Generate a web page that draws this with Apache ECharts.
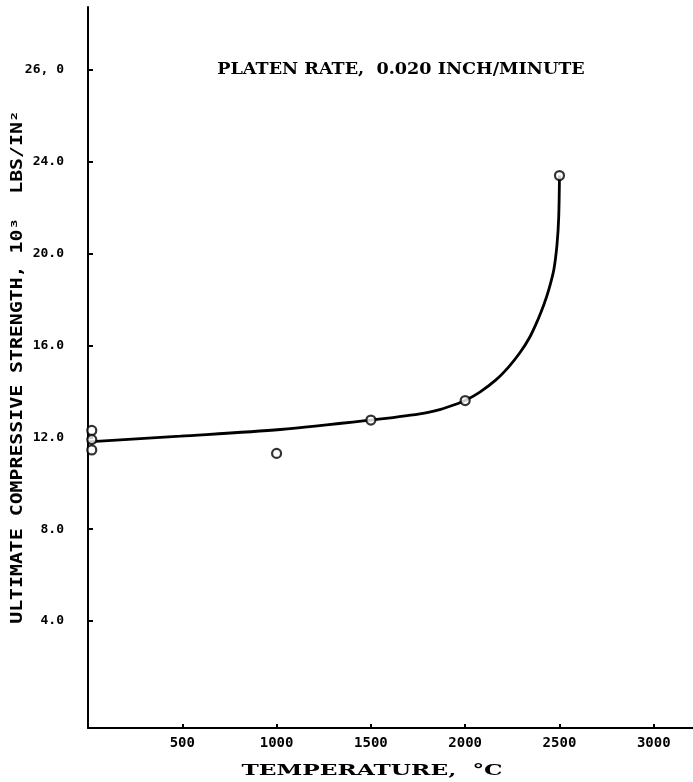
<!DOCTYPE html>
<html>
<head>
<meta charset="utf-8">
<script src="https://cdn.jsdelivr.net/npm/echarts@6/dist/echarts.min.js"></script>
<style>
  html, body { margin: 0; padding: 0; background: #fff; }
  #chart { width: 693px; height: 782px; }
</style>
</head>
<body>
<div id="chart"></div>
<script>
// Tick positions and their printed labels
const xTickValues = [500, 1000, 1500, 2000, 2500, 3000];
const xTickLabels = ['500', '1000', '1500', '2000', '2500', '3000'];
const yTickValues = [4, 8, 12, 16, 20, 24, 28];
const yTickLabels = ['4.0', '8.0', '12.0', '16.0', '20.0', '24.0', '26, 0'];

// Titles
const noteText = 'PLATEN RATE,  0.020 INCH/MINUTE';
const xTitle = 'TEMPERATURE,  °C';
const yTitle = 'ULTIMATE COMPRESSIVE STRENGTH, 10³  LBS/IN²';

// Measured specimens (temperature °C, strength 10^3 lbs/in^2)
const pointTemp = [20, 20, 20, 1000, 1500, 2000, 2500];
const pointStrength = [12.3, 11.9, 11.45, 11.3, 12.75, 13.6, 23.4];

// Faired curve through the measurements
const curveTemp = [0, 490, 1020, 1500, 1760, 1870, 1955, 2000, 2078, 2163, 2231, 2290, 2343, 2385, 2417, 2443, 2470, 2487, 2496, 2500];
const curveStrength = [11.8, 12.05, 12.34, 12.75, 13.02, 13.22, 13.45, 13.6, 13.97, 14.5, 15.07, 15.68, 16.37, 17.11, 17.77, 18.42, 19.3, 20.4, 21.6, 23.4];

const monoFont = '"DejaVu Sans Mono", "Liberation Mono", monospace';
const serifFont = '"DejaVu Serif", "Liberation Serif", serif';

const chart = echarts.init(document.getElementById('chart'), null, { renderer: 'canvas' });

chart.setOption({
  backgroundColor: '#ffffff',
  animation: false,
  grid: { left: 88, right: 0, top: 7, bottom: 54, containLabel: false, outerBoundsMode: 'none' },
  xAxis: {
    type: 'value',
    min: 0,
    max: 3208,
    splitLine: { show: false },
    axisLine: { show: true, onZero: false, lineStyle: { color: '#000', width: 2 } },
    axisTick: {
      show: true, inside: true, length: 4, customValues: xTickValues,
      lineStyle: { color: '#000', width: 2 }
    },
    axisLabel: {
      customValues: xTickValues,
      formatter: v => xTickLabels[xTickValues.indexOf(v)] ?? '',
      color: '#000', fontFamily: monoFont, fontWeight: 'bold', fontSize: 14,
      margin: 8
    }
  },
  yAxis: {
    type: 'value',
    min: -0.66,
    max: 30.74,
    splitLine: { show: false },
    axisLine: { show: true, onZero: false, lineStyle: { color: '#000', width: 2 } },
    axisTick: {
      show: true, inside: true, length: 5, customValues: yTickValues,
      lineStyle: { color: '#000', width: 2 }
    },
    axisLabel: {
      customValues: yTickValues,
      formatter: v => yTickLabels[yTickValues.indexOf(v)] ?? '',
      color: '#000', fontFamily: monoFont, fontWeight: 'bold', fontSize: 13,
      margin: 24
    }
  },
  graphic: [
    {
      type: 'text',
      x: 401, y: 70,
      scaleX: 1.1,
      style: {
        text: noteText, fill: '#000',
        font: 'bold 16px ' + serifFont,
        align: 'center', verticalAlign: 'middle'
      }
    },
    {
      type: 'text',
      x: 372, y: 771,
      scaleX: 1.55,
      style: {
        text: xTitle, fill: '#000',
        font: 'bold 15px ' + serifFont,
        align: 'center', verticalAlign: 'middle'
      }
    },
    {
      type: 'text',
      x: 18, y: 367,
      rotation: Math.PI / 2,
      scaleX: 1.24,
      style: {
        text: yTitle, fill: '#000',
        font: 'bold 16px ' + monoFont,
        align: 'center', verticalAlign: 'middle'
      }
    }
  ],
  series: [
    {
      type: 'line',
      data: curveTemp.map((t, i) => [t, curveStrength[i]]),
      smooth: 0.3,
      showSymbol: false,
      lineStyle: { color: '#000', width: 2.8 },
      z: 2
    },
    {
      type: 'scatter',
      data: pointTemp.map((t, i) => [t, pointStrength[i]]),
      symbol: 'circle',
      symbolSize: 9,
      itemStyle: { color: '#fff', borderColor: '#000', borderWidth: 2.2 },
      z: 3
    }
  ]
});
</script>
</body>
</html>
